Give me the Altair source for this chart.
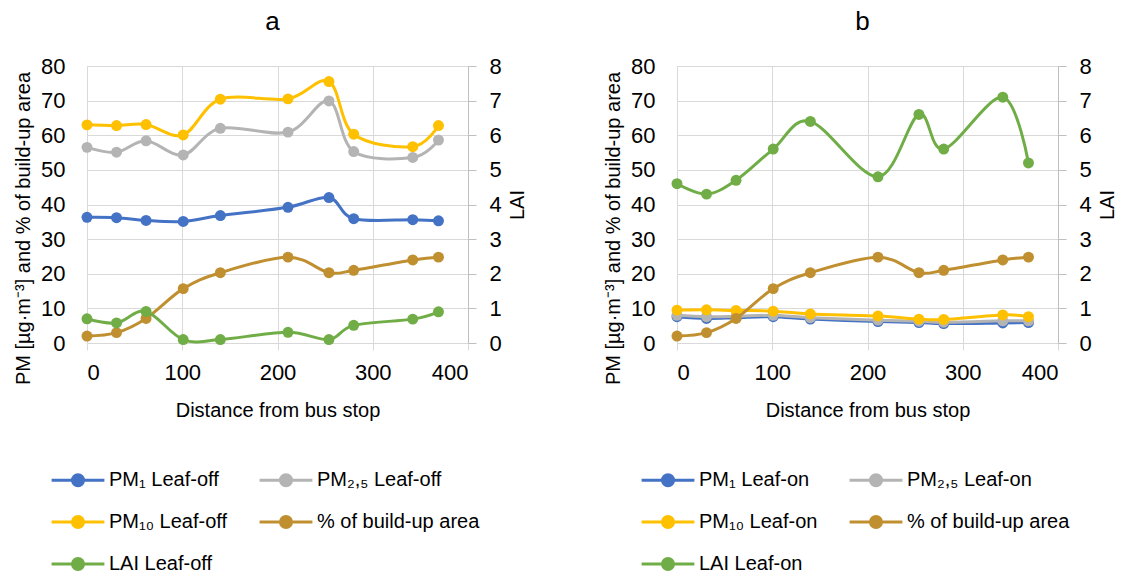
import altair as alt
import pandas as pd

# ---------------- data ----------------
dist = [0, 31, 62, 101, 140, 211, 254, 280, 342, 369]

names_a = ["PM₁ Leaf-off", "PM₂,₅ Leaf-off", "PM₁₀ Leaf-off", "% of build-up area", "LAI Leaf-off"]
names_b = ["PM₁ Leaf-on", "PM₂,₅ Leaf-on", "PM₁₀ Leaf-on", "% of build-up area", "LAI Leaf-on"]

pm1_off = [36.3, 36.2, 35.4, 35.1, 36.8, 39.2, 42.0, 35.9, 35.6, 35.3]
pm25_off = [56.5, 55.1, 58.4, 54.3, 62.0, 60.9, 69.9, 55.3, 53.6, 58.6]
pm10_off = [63.0, 62.8, 63.1, 60.1, 70.4, 70.5, 75.5, 60.3, 56.7, 62.8]
build_up = [2.0, 3.0, 7.1, 15.7, 20.3, 24.8, 20.3, 21.0, 24.0, 24.8]
lai_off = [0.70, 0.58, 0.91, 0.10, 0.10, 0.31, 0.10, 0.51, 0.69, 0.90]

pm1_on = [7.6, 7.1, 7.3, 7.6, 6.9, 6.2, 5.9, 5.6, 5.8, 5.9]
pm25_on = [8.0, 7.6, 7.7, 8.0, 7.3, 6.6, 6.3, 6.0, 6.4, 6.4]
pm10_on = [9.5, 9.6, 9.4, 9.2, 8.4, 7.8, 6.9, 6.8, 8.1, 7.6]
lai_on = [4.6, 4.3, 4.7, 5.6, 6.4, 4.8, 6.6, 5.6, 7.1, 5.2]

colors = ["#4472C4", "#B4B4B4", "#FFC000", "#BF8F30", "#70AD47"]

FONT = "Liberation Sans, Arial, sans-serif"
GRID = "#D9D9D9"
AXC = "#BFBFBF"

LEGEND_PATH = "M-4.8,0L4.8,0M-1,0A1,1,0,1,1,1,0A1,1,0,1,1,-1,0Z"


def panel(names, series, title):
    rows = []
    for i, (n, vals) in enumerate(zip(names, series)):
        for d, v in zip(dist, vals):
            rows.append({"dist": d, "series": n, "value": v, "idx": i})
    df = pd.DataFrame(rows)

    legend = alt.Legend(
        title=None, orient="none", legendX=-19, legendY=404, columns=2,
        direction="horizontal",
        symbolType=LEGEND_PATH, symbolSize=121, symbolStrokeWidth=3,
        labelFont=FONT, labelFontSize=20, labelColor="#000", labelLimit=400,
        labelOffset=21, rowPadding=18, columnPadding=25,
    )
    color = alt.Color("series:N", scale=alt.Scale(domain=names, range=colors), legend=legend)

    x = alt.X("dist:Q", scale=alt.Scale(domain=[0, 400], nice=False),
              axis=alt.Axis(values=[0, 100, 200, 300, 400], title="Distance from bus stop",
                            grid=True, gridColor=GRID, domain=False, ticks=True,
                            tickColor=GRID, tickSize=7, labelPadding=12,
                            labelFont=FONT, labelFontSize=22, labelColor="#000",
                            titleFont=FONT, titleFontSize=20, titleFontWeight="normal",
                            titleColor="#000", titlePadding=17))
    y_left = alt.Y("value:Q", scale=alt.Scale(domain=[0, 80], nice=False),
                   axis=alt.Axis(values=list(range(0, 81, 10)),
                                 title="PM [µg·m⁻³] and % of build-up area",
                                 grid=True, gridColor=GRID, domain=False, ticks=False,
                                 tickSize=0, labelPadding=22,
                                 labelFont=FONT, labelFontSize=22, labelColor="#000",
                                 titleFont=FONT, titleFontSize=20, titleFontWeight="normal",
                                 titleColor="#000", titlePadding=7, titleY=162))
    y_right = alt.Y("value:Q", scale=alt.Scale(domain=[0, 8], nice=False),
                    axis=alt.Axis(values=list(range(0, 9)), orient="right", title="LAI",
                                  grid=False, domain=True, domainColor=AXC, ticks=True,
                                  tickColor=AXC, tickSize=8, labelPadding=13,
                                  labelFont=FONT, labelFontSize=22, labelColor="#000",
                                  titleFont=FONT, titleFontSize=20, titleFontWeight="normal",
                                  titleColor="#000", titleAngle=270, titlePadding=26))

    base = alt.Chart(df)
    left_layers = []
    for i in range(4):
        sub = base.transform_filter(alt.datum.idx == i)
        left_layers.append(sub.mark_line(interpolate="cardinal", strokeWidth=3).encode(x=x, y=y_left, color=color))
        left_layers.append(sub.mark_circle(size=120, opacity=1).encode(x=x, y=y_left, color=color))
    sub = base.transform_filter(alt.datum.idx == 4)
    right_layers = [
        sub.mark_line(interpolate="cardinal", strokeWidth=3).encode(x=x, y=y_right, color=color),
        sub.mark_circle(size=120, opacity=1).encode(x=x, y=y_right, color=color),
    ]
    left = alt.layer(*left_layers)
    right = alt.layer(*right_layers)
    return alt.layer(left, right).resolve_scale(y="independent").properties(
        width=381, height=277,
        title=alt.TitleParams(title, font=FONT, fontSize=26, fontWeight="normal",
                              color="#000", frame="group", dx=-5, offset=20),
    )


pa = panel(names_a, [pm1_off, pm25_off, pm10_off, build_up, lai_off], "a")
pb = panel(names_b, [pm1_on, pm25_on, pm10_on, build_up, lai_on], "b")

chart = alt.hconcat(pa, pb, spacing=75).resolve_scale(color="independent").resolve_legend(
    color="independent").properties(padding={"left": 13, "top": 8, "right": 2, "bottom": 2}).configure_view(
    stroke=None).configure(background="white")

chart.save("out.html", embed_options={"renderer": "svg", "actions": False})
